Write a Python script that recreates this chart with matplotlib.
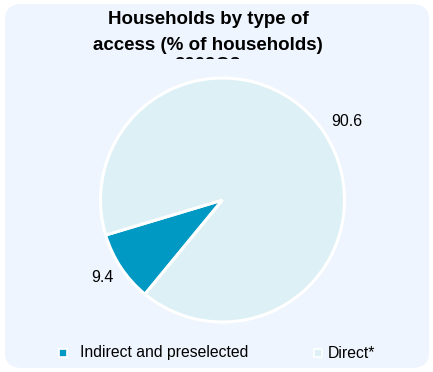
import matplotlib
matplotlib.use("Agg")
import matplotlib.pyplot as plt
from matplotlib.patches import FancyBboxPatch, Rectangle
from matplotlib.lines import Line2D

plt.rcParams['font.family'] = ['Liberation Sans', 'DejaVu Sans']

categories = ["Indirect and preselected", "Direct*"]
values = [9.4, 90.6]
colors = ["#0099C4", "#DDF0F5"]
title_lines = ["Households by type of", "access (% of households)", "2009Q3"]

W, H = 433, 372
panel = "#EEF5FE"
fig = plt.figure(figsize=(W / 100, H / 100), dpi=100)
fig.patch.set_facecolor("white")

# rounded panel background
bg = FancyBboxPatch((5 / W, 4 / H), 424 / W, 364 / H,
                    boxstyle="round,pad=0,rounding_size=0.04",
                    transform=fig.transFigure, facecolor=panel,
                    edgecolor="none", zorder=-5)
fig.patches.append(bg)

cx, cy, r = 222.5, 200, 122
ax = fig.add_axes([(cx - r) / W, 1 - (cy + r) / H, 2 * r / W, 2 * r / H])
ax.set_zorder(3)
ax.set_facecolor("none")
wedges, _ = ax.pie(values, colors=colors, startangle=196.7, counterclock=True,
                   radius=1.0,
                   wedgeprops=dict(edgecolor="white", linewidth=2.2))
ax.set_xlim(-1.0, 1.0)
ax.set_ylim(-1.0, 1.0)
ax.set_aspect("equal")
ax.axis("off")

# value labels
fig.text(102.5 / W, 1 - 278 / H, f"{values[0]:.1f}", ha="center", va="center", fontsize=11.5)
fig.text(347 / W, 1 - 122 / H, f"{values[1]:.1f}", ha="center", va="center", fontsize=11.5)

# title; the third line is cut off just under the second
fig.text(208 / W, 1 - 20 / H, title_lines[0], ha="center", va="center",
         fontsize=13.5, fontweight="bold")
fig.text(208 / W, 1 - 46 / H, title_lines[1], ha="center", va="center",
         fontsize=13.5, fontweight="bold")
fig.text(208 / W, 1 - 57 / H, title_lines[2], ha="center", va="top",
         fontsize=13.5, fontweight="bold", zorder=1)
fig.patches.append(Rectangle((140 / W, 1 - 78 / H), 150 / W, 19 / H,
                             transform=fig.transFigure, facecolor=panel,
                             edgecolor="none", zorder=2))

# legend
leg_items = [(63, 80, categories[0]), (318, 328, categories[1])]
for i, (mx, tx, lab) in enumerate(leg_items):
    fig.add_artist(Line2D([mx / W], [1 - 353 / H], marker="s", markersize=5.5,
                          markerfacecolor=colors[i], markeredgecolor="white",
                          markeredgewidth=1.2, linestyle="none",
                          transform=fig.transFigure))
    fig.text(tx / W, 1 - 353 / H, lab, ha="left", va="center", fontsize=11.3)

fig.savefig("out.png", dpi=100)
